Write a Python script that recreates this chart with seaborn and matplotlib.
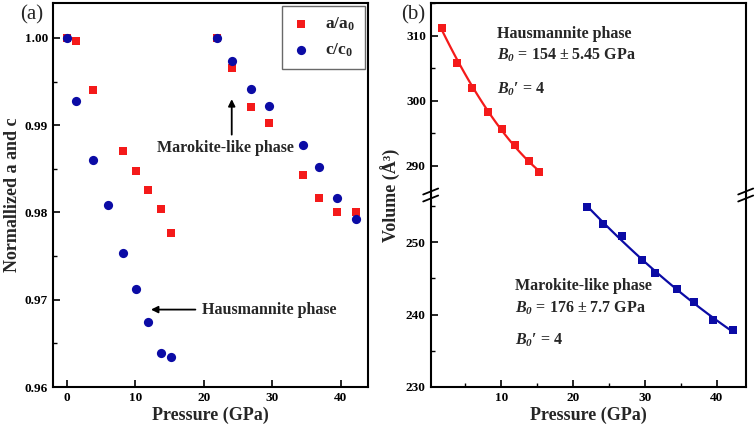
import numpy as np
import pandas as pd
import matplotlib
matplotlib.use("Agg")
import matplotlib.pyplot as plt
from matplotlib.ticker import MultipleLocator, FormatStrFormatter
from matplotlib.lines import Line2D
import seaborn as sns

# ---------------- data ----------------
P_a = [0, 1.3, 3.9, 8.2, 10.1, 11.9, 13.8, 15.2, 22.0, 24.1, 26.9, 29.6, 34.5, 36.8, 39.4, 42.2]
a_ratio = [1.000, 0.9997, 0.9940, 0.9870, 0.9848, 0.9826, 0.9804, 0.9776,
           1.000, 0.9965, 0.9921, 0.9902, 0.9843, 0.9817, 0.9801, 0.9801]
P_c = [0, 1.3, 3.9, 6.0, 8.2, 10.1, 11.9, 13.8, 15.2, 22.0, 24.1, 26.9, 29.6, 34.5, 36.8, 39.4, 42.2]
c_ratio = [1.000, 0.9928, 0.9860, 0.9808, 0.9753, 0.9712, 0.9675, 0.9639, 0.9634,
           1.000, 0.9973, 0.9942, 0.9922, 0.9877, 0.9852, 0.9816, 0.9792]

P_haus = [1.8, 3.9, 6.0, 8.2, 10.1, 11.9, 13.8, 15.2]
V_haus = [311.1, 305.8, 302.0, 298.3, 295.6, 293.2, 290.8, 289.0]
P_maro = [22.0, 24.1, 26.8, 29.6, 31.4, 34.5, 36.8, 39.4, 42.2]
V_maro = [254.9, 252.5, 250.8, 247.5, 245.7, 243.5, 241.7, 239.3, 237.8]

RED = "#F41A1A"
BLUE = "#0B0BA5"

sns.set_style("ticks")
plt.rcParams.update({
    "font.family": ["Liberation Serif", "DejaVu Serif"],
    "font.weight": "bold",
    "axes.labelweight": "bold",
    "mathtext.fontset": "custom",
    "mathtext.rm": "Liberation Serif:bold",
    "mathtext.bf": "Liberation Serif:bold",
    "mathtext.it": "Liberation Serif:bold:italic",
    "mathtext.bfit": "Liberation Serif:bold:italic",
    "xtick.direction": "in",
    "ytick.direction": "in",
    "xtick.major.size": 5,
    "ytick.major.size": 5,
    "xtick.minor.size": 3,
    "ytick.minor.size": 3,
    "xtick.major.width": 1.2,
    "ytick.major.width": 1.2,
    "xtick.minor.width": 1.0,
    "ytick.minor.width": 1.0,
    "axes.linewidth": 1.5,
    "axes.edgecolor": "black",
    "xtick.color": "black",
    "ytick.color": "black",
})

fig = plt.figure(figsize=(7.56, 4.28), dpi=100)
W, H = 756, 428

def fr(x0, y0, x1, y1):
    return [x0 / W, 1 - y1 / H, (x1 - x0) / W, (y1 - y0) / H]

# ---------------- panel (a) ----------------
axa = fig.add_axes(fr(53, 3, 368, 387))
sns.scatterplot(x=P_a, y=a_ratio, ax=axa, marker="s", color=RED, s=34,
                linewidth=0, label=r"$\mathbf{a/a_0}$", zorder=3)
sns.scatterplot(x=P_c, y=c_ratio, ax=axa, marker="o", color=BLUE, s=44,
                linewidth=0, label=r"$\mathbf{c/c_0}$", zorder=4)
axa.set_xlim(-2, 44)
axa.set_ylim(0.96, 1.004)
axa.xaxis.set_major_locator(MultipleLocator(10))
axa.yaxis.set_major_locator(MultipleLocator(0.01))
axa.yaxis.set_minor_locator(MultipleLocator(0.005))
axa.yaxis.set_major_formatter(FormatStrFormatter("%.2f"))
axa.tick_params(labelsize=9.5)
axa.set_xlabel("Pressure (GPa)", fontsize=13, labelpad=2)
axa.set_ylabel("Normallized a and c", fontsize=13, labelpad=3)
leg = axa.legend(loc="upper right", fontsize=12.5, frameon=True, fancybox=False,
                 edgecolor="#444444", borderaxespad=0.15, handletextpad=0.9,
                 handlelength=1.0, borderpad=0.6, labelspacing=0.45,
                 markerscale=1.0)
leg.get_frame().set_linewidth(1.0)

axa.annotate("", xy=(24.1, 0.9933), xytext=(24.1, 0.9886),
             arrowprops=dict(arrowstyle="-|>", color="black", lw=1.3, mutation_scale=10))
axa.text(23.2, 0.98735, "Marokite-like phase", fontsize=11.5, ha="center", va="center")
axa.annotate("", xy=(11.9, 0.96887), xytext=(19.2, 0.96887),
             arrowprops=dict(arrowstyle="-|>", color="black", lw=1.3, mutation_scale=10))
axa.text(19.8, 0.96885, "Hausmannite phase", fontsize=11.5, ha="left", va="center")

fig.text(32 / W, 1 - 15 / H, "(a)", fontsize=15, fontweight="normal", ha="center", va="center")
fig.text(413 / W, 1 - 15 / H, "(b)", fontsize=15, fontweight="normal", ha="center", va="center")

# ---------------- panel (b), broken axis ----------------
axu = fig.add_axes(fr(430.7, 3, 745.7, 195))
axl = fig.add_axes(fr(430.7, 195, 745.7, 387), sharex=axu)

sns.regplot(x=P_haus, y=V_haus, ax=axu, order=2, ci=None, scatter=False,
            color=RED, line_kws=dict(lw=1.6))
sns.scatterplot(x=P_haus, y=V_haus, ax=axu, marker="s", color=RED, s=30,
                linewidth=0, zorder=3)
sns.regplot(x=P_maro, y=V_maro, ax=axl, order=2, ci=None, scatter=False,
            color=BLUE, line_kws=dict(lw=1.6))
sns.scatterplot(x=P_maro, y=V_maro, ax=axl, marker="s", color=BLUE, s=30,
                linewidth=0, zorder=3)

axu.set_xlim(0.2, 44)
axu.set_ylim(285.5, 315)
axl.set_ylim(230, 256.5)
axu.yaxis.set_major_locator(MultipleLocator(10))
axu.yaxis.set_minor_locator(MultipleLocator(5))
axl.yaxis.set_major_locator(MultipleLocator(10))
axl.yaxis.set_minor_locator(MultipleLocator(5))
axl.xaxis.set_major_locator(MultipleLocator(10))
axl.xaxis.set_minor_locator(MultipleLocator(5))
axu.spines["bottom"].set_visible(False)
axl.spines["top"].set_visible(False)
axu.tick_params(axis="x", which="both", bottom=False, labelbottom=False)
for ax in (axu, axl):
    ax.tick_params(labelsize=9.5)
    ax.set_ylabel("")
    ax.set_xlabel("")
axl.set_xlabel("Pressure (GPa)", fontsize=13, labelpad=2)
fig.text(391 / W, 1 - 195 / H, "Volume (Å³)", rotation=90, fontsize=13,
         ha="center", va="center")

# break marks
dx, dy = 7.5 / 315, 3.0 / 192
for xc in (0, 1):
    for off in (3.5 / 192, -3.5 / 192):
        axl.add_line(Line2D([xc - dx, xc + dx], [1 + off - dy, 1 + off + dy],
                            transform=axl.transAxes, color="black", lw=1.3,
                            clip_on=False))

axu.text(9.4, 310.3, "Hausmannite phase", fontsize=11.5, ha="left", va="center")
axu.text(9.4, 306.9, r"$\mathbfit{B_0}$ = 154 ± 5.45 GPa", fontsize=11.5, ha="left", va="center")
axu.text(9.4, 301.8, r"$\mathbfit{B_0}$′ = 4", fontsize=11.5, ha="left", va="center")
axl.text(11.9, 243.9, "Marokite-like phase", fontsize=11.5, ha="left", va="center")
axl.text(11.9, 240.8, r"$\mathbfit{B_0}$ = 176 ± 7.7 GPa", fontsize=11.5, ha="left", va="center")
axl.text(11.9, 236.4, r"$\mathbfit{B_0}$′ = 4", fontsize=11.5, ha="left", va="center")

fig.savefig("out.png", dpi=100)
